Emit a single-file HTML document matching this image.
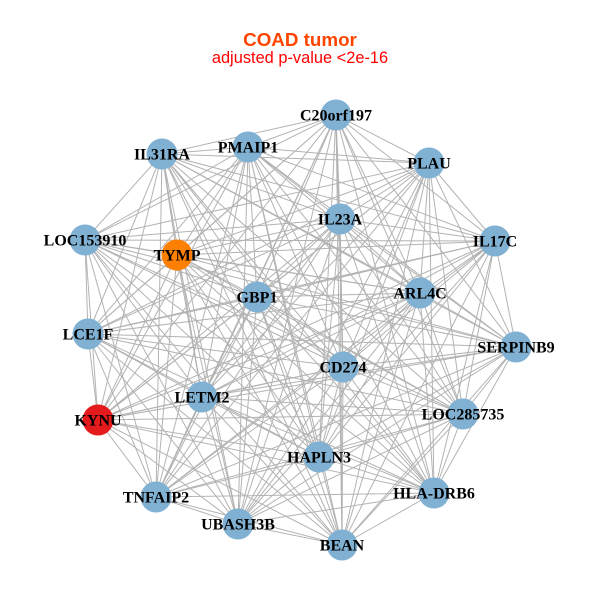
<!DOCTYPE html>
<html>
<head>
<meta charset="utf-8">
<style>
html,body{margin:0;padding:0;background:#fff;}
svg{display:block;}
.lbl{font-family:"Liberation Serif",serif;font-weight:bold;font-size:16px;fill:#000;text-anchor:middle;}
</style>
</head>
<body>
<svg width="600" height="600" viewBox="0 0 600 600" xmlns="http://www.w3.org/2000/svg">
<rect width="600" height="600" fill="#fff"/>
<text x="300" y="46" text-anchor="middle" font-family="Liberation Sans, sans-serif" font-weight="bold" font-size="18.8" fill="#ff4500">COAD tumor</text>
<text x="300" y="63" text-anchor="middle" font-family="Liberation Sans, sans-serif" font-size="16.4" fill="#ff0000">adjusted p-value &lt;2e-16</text>
<g stroke="#b3b3b3" stroke-width="1" fill="none">
<path d="M336 115L248 147L336 115L162 154L336 115L429 163L336 115L340 219L336 115L85 240L336 115L177 255L336 115L495 241L336 115L257 297L336 115L420 293L336 115L88 334L336 115L516 347L336 115L343 367L336 115L202 397L336 115L98 420L336 115L463 414L336 115L319 457L336 115L434 493L336 115L156 497L336 115L238 524L336 115L342 545"/>
<path d="M248 147L162 154L248 147L429 163L248 147L340 219L248 147L85 240L248 147L177 255L248 147L495 241L248 147L257 297L248 147L420 293L248 147L88 334L248 147L516 347L248 147L343 367L248 147L202 397L248 147L98 420L248 147L463 414L248 147L319 457L248 147L434 493L248 147L156 497L248 147L238 524L248 147L342 545"/>
<path d="M162 154L429 163L162 154L340 219L162 154L85 240L162 154L177 255L162 154L495 241L162 154L257 297L162 154L420 293L162 154L88 334L162 154L516 347L162 154L343 367L162 154L202 397L162 154L98 420L162 154L463 414L162 154L319 457L162 154L434 493L162 154L156 497L162 154L238 524L162 154L342 545"/>
<path d="M429 163L340 219L429 163L85 240L429 163L177 255L429 163L495 241L429 163L257 297L429 163L420 293L429 163L88 334L429 163L516 347L429 163L343 367L429 163L202 397L429 163L98 420L429 163L463 414L429 163L319 457L429 163L434 493L429 163L156 497L429 163L238 524L429 163L342 545"/>
<path d="M340 219L85 240L340 219L177 255L340 219L495 241L340 219L257 297L340 219L420 293L340 219L88 334L340 219L516 347L340 219L343 367L340 219L202 397L340 219L98 420L340 219L463 414L340 219L319 457L340 219L434 493L340 219L156 497L340 219L238 524L340 219L342 545"/>
<path d="M85 240L177 255L85 240L495 241L85 240L257 297L85 240L420 293L85 240L88 334L85 240L516 347L85 240L343 367L85 240L202 397L85 240L98 420L85 240L463 414L85 240L319 457L85 240L434 493L85 240L156 497L85 240L238 524L85 240L342 545"/>
<path d="M177 255L495 241L177 255L257 297L177 255L420 293L177 255L88 334L177 255L516 347L177 255L343 367L177 255L202 397L177 255L98 420L177 255L463 414L177 255L319 457L177 255L434 493L177 255L156 497L177 255L238 524L177 255L342 545"/>
<path d="M495 241L257 297L495 241L420 293L495 241L88 334L495 241L516 347L495 241L343 367L495 241L202 397L495 241L98 420L495 241L463 414L495 241L319 457L495 241L434 493L495 241L156 497L495 241L238 524L495 241L342 545"/>
<path d="M257 297L420 293L257 297L88 334L257 297L516 347L257 297L343 367L257 297L202 397L257 297L98 420L257 297L463 414L257 297L319 457L257 297L434 493L257 297L156 497L257 297L238 524L257 297L342 545"/>
<path d="M420 293L88 334L420 293L516 347L420 293L343 367L420 293L202 397L420 293L98 420L420 293L463 414L420 293L319 457L420 293L434 493L420 293L156 497L420 293L238 524L420 293L342 545"/>
<path d="M88 334L516 347L88 334L343 367L88 334L202 397L88 334L98 420L88 334L463 414L88 334L319 457L88 334L434 493L88 334L156 497L88 334L238 524L88 334L342 545"/>
<path d="M516 347L343 367L516 347L202 397L516 347L98 420L516 347L463 414L516 347L319 457L516 347L434 493L516 347L156 497L516 347L238 524L516 347L342 545"/>
<path d="M343 367L202 397L343 367L98 420L343 367L463 414L343 367L319 457L343 367L434 493L343 367L156 497L343 367L238 524L343 367L342 545"/>
<path d="M202 397L98 420L202 397L463 414L202 397L319 457L202 397L434 493L202 397L156 497L202 397L238 524L202 397L342 545"/>
<path d="M98 420L463 414L98 420L319 457L98 420L434 493L98 420L156 497L98 420L238 524L98 420L342 545"/>
<path d="M463 414L319 457L463 414L434 493L463 414L156 497L463 414L238 524L463 414L342 545"/>
<path d="M319 457L434 493L319 457L156 497L319 457L238 524L319 457L342 545"/>
<path d="M434 493L156 497L434 493L238 524L434 493L342 545"/>
<path d="M156 497L238 524L156 497L342 545"/>
<path d="M238 524L342 545"/>
</g>
<g fill="#80b1d3">
<circle cx="336" cy="115" r="15.5"/>
<circle cx="248" cy="147" r="15.5"/>
<circle cx="162" cy="154" r="15.5"/>
<circle cx="429" cy="163" r="15.5"/>
<circle cx="340" cy="219" r="15.5"/>
<circle cx="85" cy="240" r="15.5"/>
<circle cx="495" cy="241" r="15.5"/>
<circle cx="257" cy="297" r="15.5"/>
<circle cx="420" cy="293" r="15.5"/>
<circle cx="88" cy="334" r="15.5"/>
<circle cx="516" cy="347" r="15.5"/>
<circle cx="343" cy="367" r="15.5"/>
<circle cx="202" cy="397" r="15.5"/>
<circle cx="463" cy="414" r="15.5"/>
<circle cx="319" cy="457" r="15.5"/>
<circle cx="434" cy="493" r="15.5"/>
<circle cx="156" cy="497" r="15.5"/>
<circle cx="238" cy="524" r="15.5"/>
<circle cx="342" cy="545" r="15.5"/>
</g>
<circle cx="177" cy="255" r="15.5" fill="#ff7f00"/>
<circle cx="98" cy="420" r="15.5" fill="#e41a1c"/>
<g class="lbl">
<text class="lbl" x="336" y="120.5">C20orf197</text>
<text class="lbl" x="248" y="152.5">PMAIP1</text>
<text class="lbl" x="162" y="159.5">IL31RA</text>
<text class="lbl" x="429" y="168.5">PLAU</text>
<text class="lbl" x="340" y="224.5">IL23A</text>
<text class="lbl" x="85" y="245.5">LOC153910</text>
<text class="lbl" x="177" y="260.5">TYMP</text>
<text class="lbl" x="495" y="246.5">IL17C</text>
<text class="lbl" x="257" y="302.5">GBP1</text>
<text class="lbl" x="420" y="298.5">ARL4C</text>
<text class="lbl" x="88" y="339.5">LCE1F</text>
<text class="lbl" x="516" y="352.5">SERPINB9</text>
<text class="lbl" x="343" y="372.5">CD274</text>
<text class="lbl" x="202" y="402.5">LETM2</text>
<text class="lbl" x="98" y="425.5">KYNU</text>
<text class="lbl" x="463" y="419.5">LOC285735</text>
<text class="lbl" x="319" y="462.5">HAPLN3</text>
<text class="lbl" x="434" y="498.5">HLA-DRB6</text>
<text class="lbl" x="156" y="502.5">TNFAIP2</text>
<text class="lbl" x="238" y="529.5">UBASH3B</text>
<text class="lbl" x="342" y="550.5">BEAN</text>
</g>
</svg>
</body>
</html>
